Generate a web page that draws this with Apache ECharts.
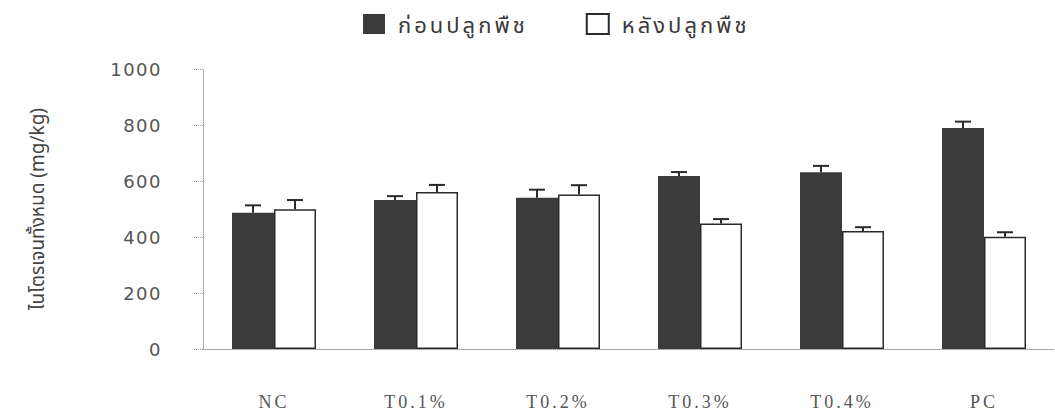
<!DOCTYPE html>
<html>
<head>
<meta charset="utf-8">
<script src="https://cdn.jsdelivr.net/npm/echarts@6/dist/echarts.min.js"></script>
<style>
  html, body { margin: 0; padding: 0; background: #fff; }
  #chart { width: 1055px; height: 416px; }
  /* wide tracking on category labels, value labels and legend text */
  #chart text[style*="Liberation Serif"] { letter-spacing: 3px; }
  #chart text[style*="DejaVu Sans"] { letter-spacing: 1.5px; }
  #chart text[style*="Lato"] { letter-spacing: 3px; }
</style>
</head>
<body>
<div id="chart"></div>
<script>
// Treatments
var categories = ['NC', 'T0.1%', 'T0.2%', 'T0.3%', 'T0.4%', 'PC'];
// Total nitrogen (mg/kg) before planting, with standard error
var beforeValues = [487, 532, 540, 618, 631, 789];
var beforeErrors = [26, 14, 29, 14, 23, 23];
// Total nitrogen (mg/kg) after planting, with standard error
var afterValues = [499, 561, 552, 448, 421, 401];
var afterErrors = [33, 25, 33, 16, 14, 16];
var seriesNames = ['ก่อนปลูกพืช', 'หลังปลูกพืช'];
var yTicks = { min: 0, max: 1000, interval: 200 };

var BAR_W = 42;

function errorData(values, errors) {
  return values.map(function (v, i) { return [i, v, errors[i]]; });
}

// Upward-only T-shaped error bar drawn at the centre of one bar in the pair
function errorRenderer(offset) {
  return function (params, api) {
    var idx = api.value(0);
    var val = api.value(1);
    var err = api.value(2);
    var base = api.coord([idx, val]);
    var top = api.coord([idx, val + err]);
    var x = base[0] + offset;
    var half = 8;
    var style = { stroke: '#2a2a2a', lineWidth: 2 };
    return {
      type: 'group',
      children: [
        { type: 'line', shape: { x1: x, y1: base[1], x2: x, y2: top[1] }, style: style },
        { type: 'line', shape: { x1: x - half, y1: top[1], x2: x + half, y2: top[1] }, style: style }
      ]
    };
  };
}

var chart = echarts.init(document.getElementById('chart'), null, { renderer: 'svg' });
chart.setOption({
  animation: false,
  backgroundColor: '#ffffff',
  legend: {
    top: 8,
    left: 358,
    icon: 'rect',
    itemWidth: 22,
    itemHeight: 20,
    itemGap: 82,
    data: seriesNames,
    textStyle: {
      fontFamily: 'Lato, "Noto Sans Thai", sans-serif',
      fontSize: 22, color: '#3a3a3a', padding: [0, 0, 0, 8]
    }
  },
  grid: { left: 203, right: -6, top: 69, bottom: 67 },
  xAxis: {
    type: 'category',
    data: categories,
    axisLine: { lineStyle: { color: '#999', type: 'dotted', width: 1 } },
    axisTick: { show: false },
    axisLabel: {
      margin: 44,
      fontFamily: '"Liberation Serif", serif',
      fontSize: 18,
      color: '#555'
    }
  },
  yAxis: {
    type: 'value',
    min: yTicks.min,
    max: yTicks.max,
    interval: yTicks.interval,
    name: 'ไนโตรเจนทั้งหมด (mg/kg)',
    nameLocation: 'middle',
    nameGap: 155,
    nameRotate: 90,
    nameTextStyle: {
      fontFamily: '"Noto Sans Thai", "Noto Sans", sans-serif',
      fontSize: 19, color: '#444'
    },
    splitLine: { show: false },
    axisLine: { show: true, lineStyle: { color: '#999', type: 'dotted', width: 1 } },
    axisTick: { show: true, length: 9, lineStyle: { color: '#999', type: 'dotted' } },
    axisLabel: {
      margin: 41,
      formatter: function (v) { return String(v); },
      fontFamily: '"DejaVu Sans", sans-serif',
      fontSize: 18,
      color: '#555'
    }
  },
  series: [
    {
      name: seriesNames[0],
      type: 'bar',
      data: beforeValues,
      barWidth: BAR_W,
      barGap: '0%',
      itemStyle: { color: '#3b3b3b' }
    },
    {
      name: seriesNames[1],
      type: 'bar',
      data: afterValues,
      barWidth: BAR_W,
      barGap: '0%',
      itemStyle: { color: '#ffffff', borderColor: '#2a2a2a', borderWidth: 1.5 }
    },
    {
      type: 'custom',
      renderItem: errorRenderer(-BAR_W / 2),
      data: errorData(beforeValues, beforeErrors),
      encode: { x: 0, y: 1 },
      z: 5
    },
    {
      type: 'custom',
      renderItem: errorRenderer(BAR_W / 2),
      data: errorData(afterValues, afterErrors),
      encode: { x: 0, y: 1 },
      z: 5
    }
  ]
});
</script>
</body>
</html>
